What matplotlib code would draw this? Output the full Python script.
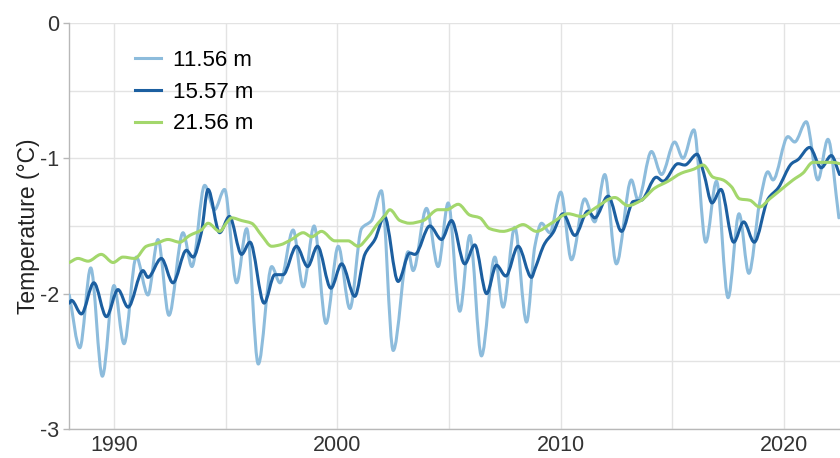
import matplotlib
matplotlib.use("Agg")
import numpy as np
import matplotlib.pyplot as plt
from matplotlib.path import Path
from matplotlib.patches import PathPatch
from matplotlib.lines import Line2D
from matplotlib.ticker import MultipleLocator

plt.rcParams['font.family'] = ['Liberation Sans', 'DejaVu Sans']

# temperature anomaly at three depths (year, degC)
years_11 = [1988.0, 1988.47, 1988.96, 1989.48, 1990.0, 1990.45, 1991.0, 1991.52,
            1991.97, 1992.46, 1993.09, 1993.49, 1994.06, 1994.5, 1994.95, 1995.49,
            1995.94, 1996.46, 1997.06, 1997.43, 1998.02, 1998.47, 1998.96, 1999.49,
            2000.04, 2000.56, 2001.08, 2001.53, 2001.97, 2002.5, 2003.17, 2003.39,
            2003.99, 2004.51, 2004.96, 2005.48, 2005.93, 2006.45, 2007.05, 2007.42,
            2007.94, 2008.47, 2008.84, 2009.14, 2009.51, 2010.0, 2010.48, 2011.07,
            2011.52, 2011.97, 2012.49, 2013.16, 2013.46, 2014.06, 2014.51, 2015.1,
            2015.47, 2015.96, 2016.49, 2016.97, 2017.49, 2017.98, 2018.42, 2018.9,
            2019.27, 2019.5, 2020.17, 2020.47, 2020.99, 2021.51, 2021.96, 2022.45]
temp_11 = [-2.01, -2.40, -1.81, -2.61, -1.94, -2.37, -1.73, -2.01,
           -1.60, -2.16, -1.55, -1.80, -1.20, -1.38, -1.23, -1.92,
           -1.52, -2.52, -1.80, -1.92, -1.53, -1.95, -1.50, -2.22,
           -1.65, -2.11, -1.52, -1.46, -1.24, -2.42, -1.69, -1.83,
           -1.37, -1.80, -1.33, -2.13, -1.57, -2.46, -1.73, -2.10,
           -1.51, -2.21, -1.65, -1.48, -1.55, -1.25, -1.75, -1.30,
           -1.47, -1.12, -1.78, -1.16, -1.31, -0.95, -1.12, -0.88,
           -1.00, -0.79, -1.62, -1.17, -2.03, -1.41, -1.85, -1.33,
           -1.10, -1.16, -0.84, -0.88, -0.73, -1.16, -0.86, -1.44]

years_15 = [1988.0, 1988.1, 1988.54, 1989.1, 1989.66, 1990.18, 1990.63, 1991.3,
            1991.52, 1992.12, 1992.64, 1993.24, 1993.54, 1993.91, 1994.21, 1994.73,
            1995.17, 1995.71, 1996.09, 1996.72, 1997.2, 1997.57, 1998.17, 1998.67,
            1999.11, 1999.71, 2000.19, 2000.78, 2001.23, 2001.68, 2002.11, 2002.72,
            2003.24, 2003.47, 2004.14, 2004.66, 2005.11, 2005.7, 2006.15, 2006.68,
            2007.12, 2007.54, 2008.09, 2008.69, 2008.84, 2009.28, 2009.65, 2010.1,
            2010.63, 2011.22, 2011.52, 2012.12, 2012.72, 2013.24, 2013.61, 2014.28,
            2014.58, 2015.25, 2015.55, 2016.1, 2016.4, 2016.77, 2017.17, 2017.74,
            2018.19, 2018.66, 2019.28, 2019.73, 2020.33, 2020.62, 2021.14, 2021.66,
            2022.11, 2022.48]
temp_15 = [-2.07, -2.05, -2.15, -1.92, -2.17, -1.97, -2.10, -1.83,
           -1.88, -1.74, -1.92, -1.68, -1.73, -1.55, -1.23, -1.55,
           -1.43, -1.71, -1.62, -2.07, -1.86, -1.86, -1.65, -1.80,
           -1.65, -1.96, -1.78, -2.02, -1.71, -1.60, -1.43, -1.91,
           -1.70, -1.71, -1.50, -1.60, -1.46, -1.78, -1.64, -2.00,
           -1.79, -1.87, -1.65, -1.88, -1.82, -1.63, -1.55, -1.41,
           -1.57, -1.39, -1.44, -1.28, -1.54, -1.32, -1.31, -1.14,
           -1.17, -1.04, -1.05, -0.97, -1.11, -1.33, -1.23, -1.62,
           -1.47, -1.62, -1.30, -1.22, -1.04, -1.01, -0.92, -1.07,
           -0.98, -1.12]

years_21 = [1988.0, 1988.39, 1988.84, 1989.43, 1989.96, 1990.4, 1990.93, 1991.45,
            1991.89, 1992.42, 1992.94, 1993.39, 1993.91, 1994.21, 1994.73, 1995.07,
            1995.27, 1995.71, 1996.16, 1996.61, 1997.06, 1997.43, 1997.95, 1998.47,
            1998.85, 1999.29, 1999.89, 2000.48, 2000.93, 2001.38, 2001.82, 2002.1,
            2002.35, 2002.8, 2003.24, 2003.84, 2004.51, 2004.89, 2005.41, 2005.93,
            2006.38, 2006.82, 2007.42, 2007.87, 2008.31, 2008.91, 2009.58, 2010.33,
            2010.93, 2011.52, 2012.42, 2013.01, 2013.61, 2014.21, 2014.8, 2015.4,
            2015.96, 2016.37, 2016.82, 2017.26, 2017.64, 2018.01, 2018.46, 2018.9,
            2019.35, 2019.8, 2020.4, 2020.84, 2021.29, 2021.74, 2022.19, 2022.48]
temp_21 = [-1.77, -1.74, -1.76, -1.71, -1.77, -1.73, -1.74, -1.65,
           -1.63, -1.60, -1.62, -1.57, -1.53, -1.48, -1.54, -1.47,
           -1.44, -1.46, -1.48, -1.57, -1.65, -1.64, -1.60, -1.55,
           -1.58, -1.54, -1.61, -1.61, -1.65, -1.58, -1.48, -1.43,
           -1.38, -1.46, -1.48, -1.46, -1.38, -1.38, -1.34, -1.42,
           -1.44, -1.52, -1.54, -1.52, -1.49, -1.54, -1.48, -1.41,
           -1.43, -1.37, -1.29, -1.35, -1.31, -1.22, -1.17, -1.11,
           -1.08, -1.05, -1.14, -1.16, -1.21, -1.30, -1.31, -1.36,
           -1.30, -1.24, -1.16, -1.11, -1.03, -1.03, -1.03, -1.04]

labels = ['11.56 m', '15.57 m', '21.56 m']
colors = ['#8dbcdc', '#1c5fa0', '#a3d76c']


def spline_path(x, y):
    # monotone cubic bezier through the points (flat tangent at extrema)
    x = np.asarray(x, float)
    y = np.asarray(y, float)
    dx = np.diff(x)
    s = np.diff(y) / dx
    m = np.zeros_like(y)
    m[0], m[-1] = s[0], s[-1]
    for i in range(1, len(y) - 1):
        if s[i - 1] * s[i] > 0:
            m[i] = 2.0 / (1.0 / s[i - 1] + 1.0 / s[i])
    verts = [(x[0], y[0])]
    codes = [Path.MOVETO]
    for i in range(len(x) - 1):
        h = dx[i] / 3.0
        verts += [(x[i] + h, y[i] + m[i] * h),
                  (x[i + 1] - h, y[i + 1] - m[i + 1] * h),
                  (x[i + 1], y[i + 1])]
        codes += [Path.CURVE4] * 3
    return Path(verts, codes)


fig = plt.figure(figsize=(8.4, 4.58), dpi=100)
ax = fig.add_axes([0.0825, 0.0633, 0.9175, 0.8867])

lw = 2.2
series = [(years_11, temp_11), (years_15, temp_15), (years_21, temp_21)]
for k, (xs, ys) in enumerate(series):
    ax.add_patch(PathPatch(spline_path(xs, ys), fill=False, edgecolor=colors[k],
                           lw=lw, joinstyle='round', capstyle='round', zorder=3 + k))

ax.set_xlim(1988, 2022.5)
ax.set_ylim(-3, 0)
ax.xaxis.set_major_locator(MultipleLocator(10))
ax.xaxis.set_minor_locator(MultipleLocator(5))
ax.yaxis.set_major_locator(MultipleLocator(1))
ax.yaxis.set_minor_locator(MultipleLocator(0.5))
ax.yaxis.set_major_formatter(plt.FuncFormatter(lambda v, p: '%d' % v))

ax.grid(which='both', color='#e3e3e3', lw=1.0, zorder=0)
ax.set_axisbelow(True)
for s in ['top', 'right']:
    ax.spines[s].set_visible(False)
for s in ['left', 'bottom']:
    ax.spines[s].set_color('#b8b8b8')
    ax.spines[s].set_linewidth(1.0)

ax.tick_params(which='major', labelsize=15.5, labelcolor='#333333',
               color='#b8b8b8', length=4, width=1)
ax.tick_params(which='minor', length=0)
ax.tick_params(axis='x', length=0, pad=4)
ax.tick_params(axis='y', pad=3)

ax.set_ylabel('Temperature (°C)', fontsize=16.5, color='#222222', labelpad=0)

handles = [Line2D([], [], color=c, lw=lw) for c in colors]
ax.legend(handles, labels, loc='upper left', bbox_to_anchor=(0.074, 0.955),
          frameon=False, fontsize=16, handlelength=1.15, handletextpad=0.55,
          labelspacing=0.48, borderaxespad=0)

fig.savefig('out.png', dpi=100)
